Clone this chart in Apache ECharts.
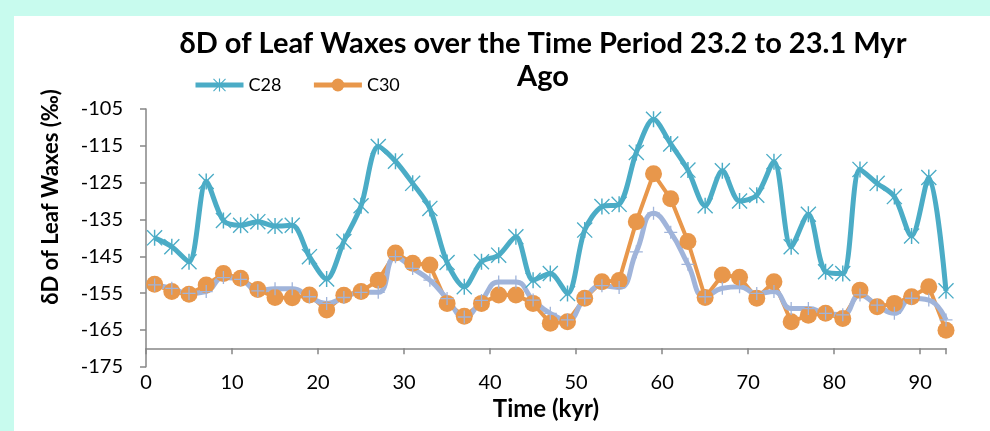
<!DOCTYPE html>
<html>
<head>
<meta charset="utf-8">
<script src="https://cdn.jsdelivr.net/npm/echarts@6/dist/echarts.min.js"></script>
<style>
html,body{margin:0;padding:0;width:990px;height:431px;overflow:hidden;background:#c8fbee;}
#panel{position:absolute;left:14px;top:16px;width:976px;height:415px;background:#ffffff;}
#chart{position:absolute;left:0;top:0;width:990px;height:431px;}
</style>
</head>
<body>
<div id="panel"></div>
<div id="chart"></div>
<script>
const timeKyr = [1,3,5,7,9,11,13,15,17,19,21,23,25,27,29,31,33,35,37,39,41,43,45,47,49,51,53,55,57,59,61,63,65,67,69,71,73,75,77,79,81,83,85,87,89,91,93];
const c28 = [-140,-142.4,-146.5,-124.7,-135.3,-136.6,-135.6,-136.8,-136.6,-145.1,-151.2,-141,-131.3,-115.2,-119.2,-125.2,-132,-146.7,-153.3,-146.5,-144.7,-139.7,-151.5,-149.7,-155.1,-137.9,-131.5,-130.9,-116.8,-107.8,-114.5,-121.6,-131.3,-121.8,-130,-128.4,-119.3,-142.4,-133.6,-149.2,-149.7,-121.4,-125.2,-128.8,-139.5,-123.6,-154.4];
const c30 = [-152.6,-154.6,-155.3,-152.8,-149.7,-151,-154,-156.2,-156.3,-155.5,-159.6,-155.6,-154.6,-151.5,-144.1,-146.9,-147.4,-157.8,-161.3,-157.8,-155.5,-155.5,-157.8,-163.2,-162.8,-156.4,-151.9,-151.6,-135.6,-122.6,-129.4,-141,-156.2,-150.1,-150.7,-156.4,-151.9,-162.8,-161,-160.5,-161.9,-154.2,-158.7,-157.8,-156,-153.3,-165.1];
const smoothC30 = [-152.8,-153.7,-155.1,-154.6,-150.8,-151.3,-154.4,-153.8,-153.8,-156,-157.8,-156.2,-154.8,-154.8,-145.1,-148.3,-151.5,-156.5,-161.5,-157,-152,-152,-156.9,-160.5,-162.3,-156.4,-153,-153.5,-143.8,-133.3,-138.5,-147.2,-156,-153.7,-153.3,-155.1,-154.6,-159.2,-159.2,-160.5,-160.9,-155.5,-158.3,-160.5,-156.4,-156.9,-162.3];
const yTicks = {min:-175, max:-105, interval:10};
const xTicks = {min:0, max:93, interval:10};
const titleText = 'δD of Leaf Waxes over the Time Period 23.2 to 23.1 Myr\nAgo';
const yName = 'δD of Leaf Waxes (‰)';
const xName = 'Time (kyr)';

const pair = (xs, ys) => xs.map((x, i) => [x, ys[i]]);
const FONT = 'Lato, "Open Sans", sans-serif';
const AXIS = '#868686';
const asterisk = 'path://M9.1 0 L10.9 0 L10.9 20 L9.1 20 Z M0 1.2 L1.2 0 L20 18.8 L18.8 20 Z M18.8 0 L20 1.2 L1.2 20 L0 18.8 Z';
const plus = 'path://M9 0 L11 0 L11 9 L20 9 L20 11 L11 11 L11 20 L9 20 L9 11 L0 11 L0 9 L9 9 Z';

const chart = echarts.init(document.getElementById('chart'), null, {renderer:'canvas'});
chart.setOption({
  animation:false,
  backgroundColor:'transparent',
  textStyle:{fontFamily:FONT},
  title:{
    text:titleText, left:538, top:22, textAlign:'center',
    textStyle:{fontFamily:FONT, fontWeight:'bold', fontSize:29, color:'#000', lineHeight:33}
  },
  legend:{
    data:['C28','C30'], left:188, top:71, itemWidth:48, itemHeight:16, itemGap:30,
    lineStyle:{width:5},
    textStyle:{fontFamily:FONT, fontSize:18, color:'#000'}
  },
  grid:{left:146, right:44, top:109, bottom:64.3, containLabel:false},
  graphic:[{
    type:'text', x:51, y:197, rotation:Math.PI/2, originX:0, originY:0,
    style:{text:yName, fontFamily:FONT, fontWeight:'bold', fontSize:22, fill:'#000', align:'center', verticalAlign:'middle'}
  }],
  xAxis:[{
    type:'value', min:xTicks.min, max:xTicks.max, interval:xTicks.interval,
    position:'bottom',
    axisLine:{show:false}, axisTick:{show:false}, splitLine:{show:false},
    axisLabel:{color:'#000', fontSize:20, fontFamily:FONT, margin:6, showMaxLabel:false},
    name:xName, nameLocation:'middle', nameGap:30,
    nameTextStyle:{fontFamily:FONT, fontWeight:'bold', fontSize:24, color:'#000'}
  },{
    type:'value', min:xTicks.min, max:xTicks.max, interval:xTicks.interval,
    position:'bottom', offset:-18.4,
    axisLine:{show:true, onZero:false, lineStyle:{color:AXIS, width:1.5}},
    axisTick:{show:true, length:6, lineStyle:{color:AXIS, width:1.5}},
    axisLabel:{show:false}, splitLine:{show:false}
  }],
  yAxis:{
    type:'value', min:yTicks.min, max:yTicks.max, interval:yTicks.interval,
    axisLine:{show:true, onZero:false, lineStyle:{color:AXIS, width:1.5}},
    axisTick:{show:true, length:6, lineStyle:{color:AXIS, width:1.5}},
    splitLine:{show:false},
    axisLabel:{color:'#000', fontSize:20, fontFamily:FONT, margin:23}
  },
  series:[{
    name:'C28', type:'line', data:pair(timeKyr, c28), smooth:0.3,
    symbol:asterisk, symbolSize:16,
    lineStyle:{color:'#4bacc6', width:5},
    itemStyle:{color:'#4bacc6'}
  },{
    name:'C30', type:'line', data:pair(timeKyr, c30), smooth:false,
    symbol:'circle', symbolSize:17,
    lineStyle:{color:'#e8974b', width:4},
    itemStyle:{color:'#e8974b'}
  },{
    name:'C30 smoothed', type:'line', data:pair(timeKyr, smoothC30), smooth:0.5,
    symbol:plus, symbolSize:13,
    lineStyle:{color:'#a0b4da', width:5},
    itemStyle:{color:'#a0b4da'}
  }]
});
</script>
</body>
</html>
